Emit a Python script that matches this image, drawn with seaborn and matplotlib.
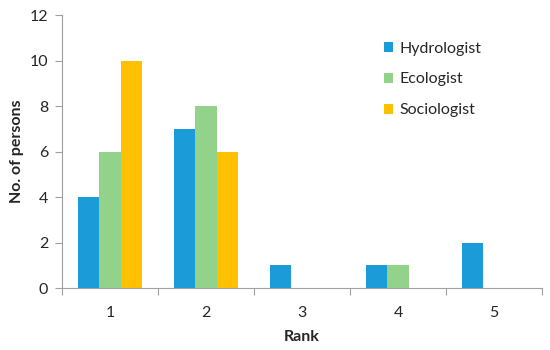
import numpy as np
import pandas as pd
import seaborn as sns
import matplotlib.pyplot as plt
from matplotlib.ticker import FixedLocator

ranks = ['1', '2', '3', '4', '5']
hydrologist = [4, 7, 1, 1, 2]
ecologist = [6, 8, 0, 1, 0]
sociologist = [10, 6, 0, 0, 0]
groups = ['Hydrologist', 'Ecologist', 'Sociologist']
colors = ['#1b9bd7', '#92d28a', '#ffc000']

df = pd.DataFrame({
    'Rank': ranks * 3,
    'Persons': hydrologist + ecologist + sociologist,
    'Group': [g for g in groups for _ in ranks],
})

sns.set_style('white')
plt.rcParams['font.family'] = ['Lato', 'DejaVu Sans']

fig = plt.figure(figsize=(5.5, 3.5), dpi=100)
ax = fig.add_axes([0.1127, 0.177, 0.873, 0.78])

sns.barplot(data=df, x='Rank', y='Persons', hue='Group', palette=colors,
            width=0.667, saturation=1, ax=ax, gap=0, linewidth=0)

ax.set_xlim(-0.5, 4.5)
ax.set_ylim(0, 12)
ax.set_yticks(np.arange(0, 13, 2))

# tick marks between categories, labels at centres
ax.xaxis.set_minor_locator(FixedLocator(np.arange(-0.5, 5, 1)))
ax.tick_params(axis='x', which='major', length=0, labelsize=11.5, pad=13)
ax.tick_params(axis='x', which='minor', length=5, width=0.8, color='#a0a0a0', direction='out', bottom=True)
ax.tick_params(axis='y', length=5, width=0.8, color='#a0a0a0', direction='out', left=True, labelsize=11.5, pad=5)

for s in ['top', 'right']:
    ax.spines[s].set_visible(False)
for s in ['left', 'bottom']:
    ax.spines[s].set_color('#a0a0a0')
    ax.spines[s].set_linewidth(0.8)

ax.set_xlabel('Rank', fontsize=11.5, fontweight='bold', labelpad=7)
ax.set_ylabel('No. of persons', fontsize=11.5, fontweight='bold', labelpad=4)

ax.legend(loc='upper left', bbox_to_anchor=(0.64, 0.955), frameon=False,
          fontsize=11.5, handlelength=0.6, handleheight=0.6, labelspacing=1.05,
          handletextpad=0.4)

fig.savefig('out.png', dpi=100)
